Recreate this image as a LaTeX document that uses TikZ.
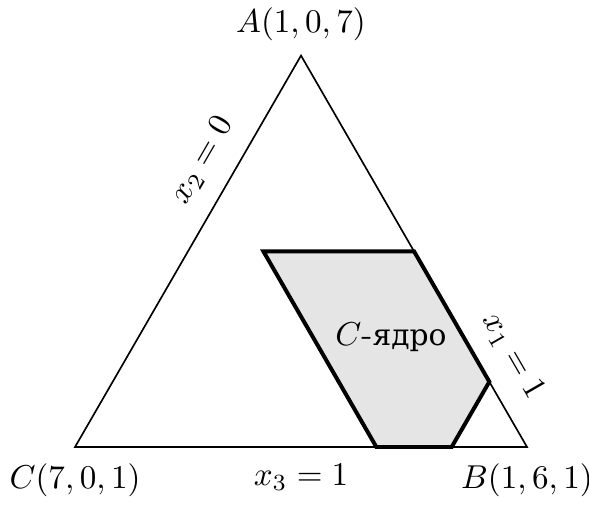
\documentclass[tikz,border=0pt]{standalone}
\usepackage{fontspec}
\newfontfamily\cyrfont{DejaVu Serif}
\begin{document}
\begin{tikzpicture}[x=0.8cm,y=0.8cm,line width=0.5pt]
\useasboundingbox (-0.996,-0.757) rectangle (6.823,5.934);

\coordinate (A) at (3,5.196);
\coordinate (B) at (6,0);
\coordinate (C) at (0,0);

\draw (C)--node[pos=0.69,sloped,above=2.5pt] (x2) {$x_2=0$} (A)
  --node[pos=0.81,sloped,above=2.5pt] (x1) {$x_1=1$} (B)
  --node[below=1.5pt] (x3) {$x_3=1$} cycle;

% C-core
\coordinate (p1) at (2.5,2.598);
\coordinate (p2) at (4.5,2.598);
\coordinate (p3) at (5.5,0.866);
\coordinate (p4) at (5,0);
\coordinate (p5) at (4,0);
\filldraw[fill=gray!20,line width=1.2pt] (p1)--(p2)--(p3)--(p4)--(p5)--cycle;

\node (core) at (4.195,1.46) {$C$-{\cyrfont\fontsize{9}{11}\selectfont ядро}};

\node[above=1pt] (labA) at (A) {$A(1,0,7)$};
\node[below=1.5pt] (labB) at (B) {$B(1,6,1)$};
\node[below=1.5pt] (labC) at (C) {$C(7,0,1)$};
\end{tikzpicture}
\end{document}
